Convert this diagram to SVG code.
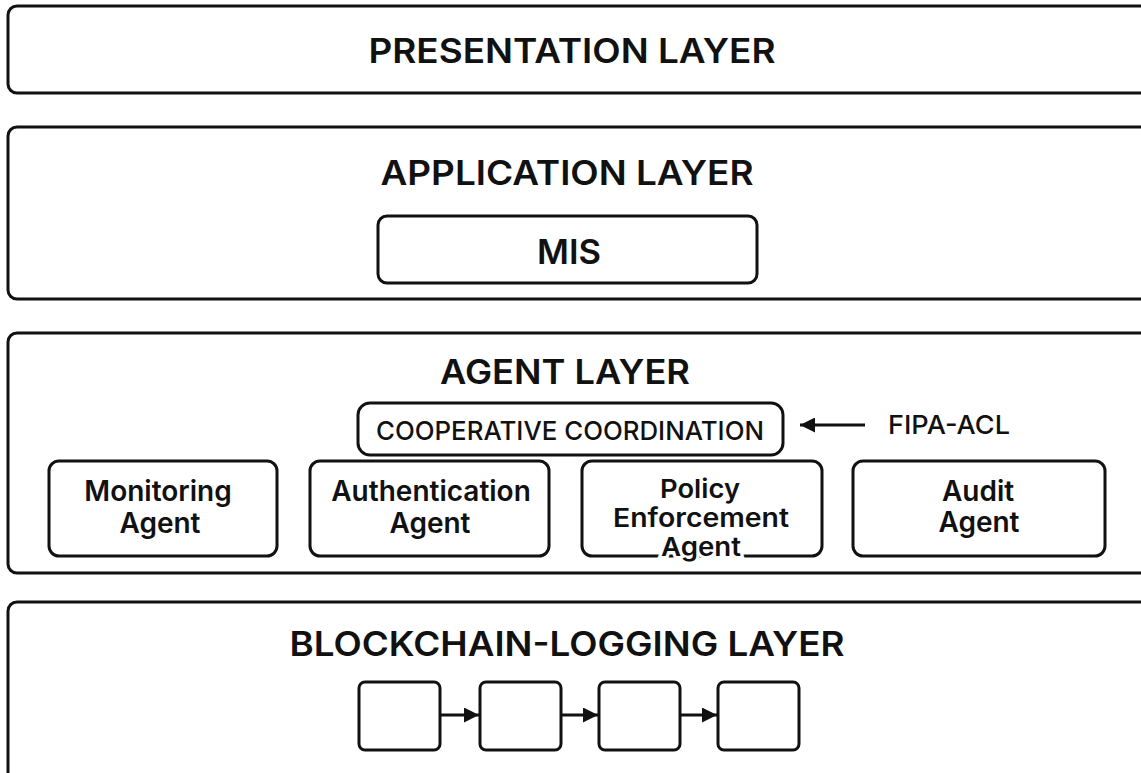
<svg xmlns="http://www.w3.org/2000/svg" width="1141" height="773" viewBox="0 0 1141 773">
<defs>
<style>
.layer{fill:#fff;stroke:#111;stroke-width:3}
.box{fill:#fff;stroke:#111;stroke-width:3}
.t{font-family:Inter,"Open Sans","Liberation Sans",sans-serif;font-weight:600;fill:#111;text-anchor:middle;dominant-baseline:central}
.big{font-size:34px}
.mid{font-size:28px}
.pol{font-size:26px}
.sm{font-size:26px;font-weight:500}
.conn{stroke:#111;stroke-width:3;fill:none}
</style>
<marker id="ah" viewBox="0 0 10 10" refX="10" refY="5" markerWidth="5.5" markerHeight="5" markerUnits="strokeWidth" orient="auto">
<path d="M0,0 L10,5 L0,10 z" fill="#111"/>
</marker>
</defs>
<rect width="1141" height="773" fill="#fff"/>
<g id="presentation-layer">
<rect class="layer" x="8" y="6" width="1150" height="87" rx="9"/>
<text class="t big" x="572" y="50" textLength="407" lengthAdjust="spacingAndGlyphs">PRESENTATION LAYER</text>
</g>
<g id="application-layer">
<rect class="layer" x="8" y="127" width="1150" height="172" rx="9"/>
<text class="t big" x="567" y="172" textLength="373" lengthAdjust="spacingAndGlyphs">APPLICATION LAYER</text>
</g>
<g id="mis">
<rect class="box" x="378" y="216" width="379" height="67" rx="9"/>
<text class="t big" x="569" y="251" textLength="64" lengthAdjust="spacingAndGlyphs">MIS</text>
</g>
<g id="agent-layer">
<rect class="layer" x="8" y="333" width="1150" height="240" rx="9"/>
<text class="t big" x="565" y="371" textLength="250" lengthAdjust="spacingAndGlyphs">AGENT LAYER</text>
</g>
<g id="cooperative-coordination">
<rect class="box" x="358" y="403" width="425" height="52" rx="12"/>
<text class="t sm" x="570" y="430" textLength="388" lengthAdjust="spacingAndGlyphs">COOPERATIVE COORDINATION</text>
</g>
<g id="fipa-acl">
<text class="t sm" x="949" y="424" textLength="122" lengthAdjust="spacingAndGlyphs">FIPA-ACL</text>
</g>
<g id="monitoring-agent">
<rect class="box" x="49" y="461" width="228" height="95" rx="10"/>
<text class="t mid" x="158" y="491">Monitoring</text>
<text class="t mid" x="160" y="523">Agent</text>
</g>
<g id="authentication-agent">
<rect class="box" x="310" y="461" width="239" height="95" rx="10"/>
<text class="t mid" x="431" y="491">Authentication</text>
<text class="t mid" x="430" y="523">Agent</text>
</g>
<g id="policy-enforcement-agent">
<rect class="box" x="582" y="461" width="240" height="95" rx="10"/>
<text class="t pol" x="700" y="488" textLength="80" lengthAdjust="spacingAndGlyphs">Policy</text>
<text class="t pol" x="701" y="517" textLength="176" lengthAdjust="spacingAndGlyphs">Enforcement</text>
<text class="t pol" x="701" y="546" textLength="80" lengthAdjust="spacingAndGlyphs" stroke="#fff" stroke-width="6" paint-order="stroke">Agent</text>
</g>
<g id="audit-agent">
<rect class="box" x="853" y="461" width="252" height="95" rx="10"/>
<text class="t mid" x="978" y="491">Audit</text>
<text class="t mid" x="979" y="522">Agent</text>
</g>
<g id="blockchain-layer">
<rect class="layer" x="8" y="602" width="1150" height="200" rx="9"/>
<text class="t big" x="567" y="643" textLength="555" lengthAdjust="spacingAndGlyphs">BLOCKCHAIN-LOGGING LAYER</text>
</g>
<g id="block-1"><rect class="box" x="359" y="682" width="81" height="68" rx="6"/></g>
<g id="block-2"><rect class="box" x="480" y="682" width="81" height="68" rx="6"/></g>
<g id="block-3"><rect class="box" x="599" y="682" width="81" height="68" rx="6"/></g>
<g id="block-4"><rect class="box" x="718" y="682" width="81" height="68" rx="6"/></g>
<g id="connectors">
<line class="conn" x1="865" y1="425" x2="800" y2="425" marker-end="url(#ah)"/>
<line class="conn" x1="440" y1="715" x2="479" y2="715" marker-end="url(#ah)"/>
<line class="conn" x1="561" y1="715" x2="598" y2="715" marker-end="url(#ah)"/>
<line class="conn" x1="680" y1="715" x2="717" y2="715" marker-end="url(#ah)"/>
</g>
</svg>
